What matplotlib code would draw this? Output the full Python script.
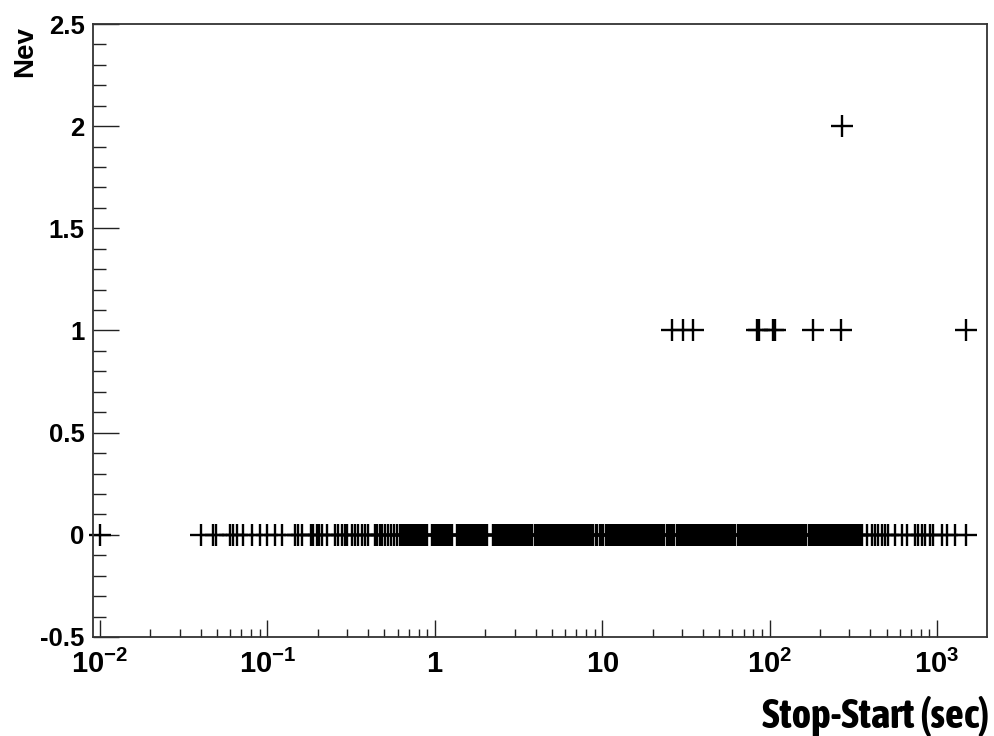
import numpy as np
import matplotlib
matplotlib.use("Agg")
import matplotlib.pyplot as plt
from matplotlib.ticker import FixedLocator, NullFormatter

plt.rcParams['mathtext.fontset'] = 'custom'
plt.rcParams['mathtext.rm'] = 'Liberation Sans:bold'
plt.rcParams['mathtext.it'] = 'Liberation Sans:bold'
plt.rcParams['mathtext.bf'] = 'Liberation Sans:bold'

# ---- data: log10 of (Stop-Start) duration in seconds ----
log_dur_nev0 = [
    -2.000,
    -1.398, -1.323, -1.307, -1.223, -1.207, -1.183, -1.144, -1.094, -1.044, -1.001,
    -0.955, -0.915, -0.835, -0.815, -0.796, -0.741, -0.726, -0.706, -0.691, -0.676,
    -0.646, -0.596, -0.577, -0.557, -0.536, -0.523, -0.497, -0.477, -0.457, -0.437,
    -0.417, -0.397, -0.357, -0.343, -0.327, -0.315, -0.297, -0.280, -0.262, -0.244,
    -0.226, -0.208,
    -0.200, -0.189, -0.177, -0.168, -0.156, -0.145, -0.133, -0.124, -0.112, -0.101,
    -0.090, -0.079, -0.067, -0.058, -0.047,
    -0.017, -0.006, 0.005, 0.016, 0.026, 0.038, 0.049, 0.059, 0.071, 0.082,
    0.093, 0.104,
    0.134, 0.145, 0.156, 0.167, 0.178, 0.189, 0.200, 0.211, 0.222, 0.233,
    0.244, 0.256, 0.267, 0.278, 0.289, 0.300, 0.311,
    0.348, 0.360, 0.371, 0.384, 0.395, 0.407, 0.418, 0.431, 0.442, 0.454,
    0.466, 0.477, 0.490, 0.501, 0.513, 0.524, 0.537, 0.548, 0.560, 0.572,
    0.583, 0.596, 0.607, 0.619, 0.630, 0.643, 0.654, 0.666, 0.678, 0.689,
    0.702, 0.713, 0.725, 0.736, 0.749, 0.760, 0.772, 0.784, 0.795, 0.808,
    0.819, 0.831, 0.842, 0.855, 0.866, 0.878, 0.890, 0.901, 0.914, 0.925,
    0.937, 0.948, 0.961, 0.972, 0.984, 0.996, 1.007, 1.020, 1.031, 1.043,
    1.054, 1.067, 1.078, 1.090, 1.102, 1.113, 1.126, 1.137, 1.149, 1.160,
    1.173, 1.184, 1.196, 1.208, 1.219, 1.232, 1.243, 1.255, 1.266, 1.279,
    1.290, 1.302, 1.314, 1.325, 1.338, 1.349, 1.361, 1.372, 1.385, 1.396,
    1.408, 1.420, 1.431, 1.444, 1.455, 1.467, 1.478, 1.491, 1.502, 1.514,
    1.526, 1.537, 1.550, 1.561, 1.573, 1.584, 1.597, 1.608, 1.620, 1.632,
    1.643, 1.656, 1.667, 1.679, 1.690, 1.703, 1.714, 1.726, 1.738, 1.749,
    1.762, 1.773, 1.785, 1.796, 1.809, 1.820, 1.832, 1.844, 1.855, 1.868,
    1.879, 1.891, 1.902, 1.915, 1.926, 1.938, 1.950, 1.961, 1.974, 1.985,
    1.997, 2.008, 2.021, 2.032, 2.044, 2.056, 2.067, 2.080, 2.091, 2.103,
    2.114, 2.127, 2.138, 2.150, 2.162, 2.173, 2.186, 2.197, 2.209, 2.220,
    2.233, 2.244, 2.256, 2.268, 2.279, 2.292, 2.303, 2.315, 2.326, 2.339,
    2.350, 2.362, 2.374, 2.385, 2.398, 2.409, 2.421, 2.432, 2.445, 2.456,
    2.468, 2.480,
    2.494, 2.506, 2.518, 2.530, 2.542, 2.555,
    2.580, 2.609, 2.629, 2.649, 2.669, 2.689, 2.709, 2.749, 2.789, 2.822,
    2.869, 2.888, 2.908, 2.928, 2.958, 2.978, 3.028, 3.061, 3.108, 3.173,
]
log_dur_nev1 = [1.417, 1.483, 1.542, 1.923, 1.938, 2.018, 2.032, 2.261, 2.427, 3.173]
log_dur_nev2 = [2.430]

x_tick_values = [1e-2, 1e-1, 1, 10, 1e2, 1e3]
x_tick_labels = [r'$10^{-2}$', r'$10^{-1}$', r'$1$', r'$10$', r'$10^{2}$', r'$10^{3}$']
y_tick_values = [-0.5, 0, 0.5, 1, 1.5, 2, 2.5]
y_tick_labels = ['-0.5', '0', '0.5', '1', '1.5', '2', '2.5']

fig = plt.figure(figsize=(9.95, 7.36), dpi=100)
ax = fig.add_axes([93/995, 1 - 637/736, (987 - 93)/995, (637 - 24)/736])

marker_kw = dict(linestyle='none', marker='+', ms=16, mew=1.7, color='black')
for logs, nev in ((log_dur_nev0, 0), (log_dur_nev1, 1), (log_dur_nev2, 2)):
    xs = 10 ** np.array(logs)
    ln, = ax.plot(xs, np.full(len(xs), nev), clip_on=False, **marker_kw)
    ln.set_snap(False)

ax.set_xscale('log')
ax.set_xlim(10 ** -2.042, 10 ** 3.299)
ax.set_ylim(-0.5, 2.5)

ax.xaxis.set_major_locator(FixedLocator(x_tick_values))
ax.set_xticklabels(x_tick_labels)
minor_x = [m * 10.0 ** e for e in range(-3, 4) for m in range(2, 10)]
ax.xaxis.set_minor_locator(FixedLocator(minor_x))
ax.xaxis.set_minor_formatter(NullFormatter())

ax.set_yticks(y_tick_values)
ax.set_yticklabels(y_tick_labels)
ax.yaxis.set_minor_locator(FixedLocator(np.arange(-0.5, 2.51, 0.1)))

for lab in ax.get_yticklabels():
    lab.set_fontfamily('Liberation Sans')
    lab.set_fontweight('bold')
    lab.set_fontsize(18.5)
for lab in ax.get_xticklabels():
    lab.set_fontsize(21)

ax.tick_params(axis='both', which='both', direction='in', top=False, right=False,
               color='#222222', width=1.0)
ax.tick_params(axis='y', which='major', length=18.5, pad=6)
ax.tick_params(axis='y', which='minor', length=9.4)
ax.tick_params(axis='x', which='major', length=12.5, pad=9)
ax.tick_params(axis='x', which='minor', length=5.8)

for s in ax.spines.values():
    s.set_color('#333333')
    s.set_linewidth(1.3)

fig.text(25/995, 1 - 52/736, 'Nev', rotation=90, ha='center', va='center',
         fontsize=20, fontweight='bold', family='Liberation Sans')

fig.text(989/995, 8/736, 'Stop-Start (sec)', ha='right', va='baseline',
         fontsize=30, fontweight='bold',
         family=['Asap Condensed', 'Noto Sans CJK JP', 'DejaVu Sans'])

fig.savefig('out.png', dpi=100, facecolor='white')
